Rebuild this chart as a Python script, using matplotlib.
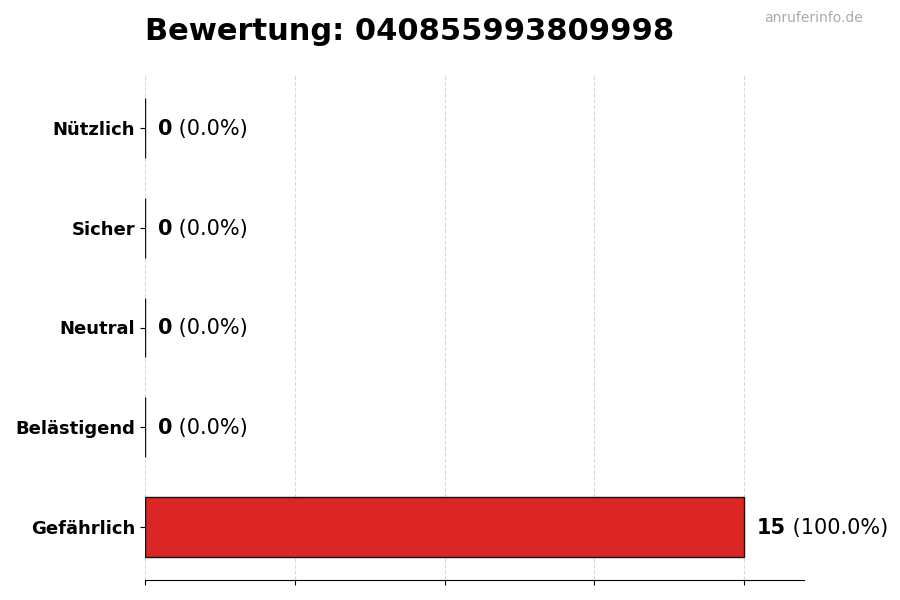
import matplotlib
matplotlib.use("Agg")
import matplotlib.pyplot as plt

categories = ["Gefährlich", "Belästigend", "Neutral", "Sicher", "Nützlich"]
values = [15, 0, 0, 0, 0]
colors = ["#dc2626", "#f97316", "#9ca3af", "#22c55e", "#16a34a"]
title = "Bewertung: 040855993809998"
total = sum(values)

fig = plt.figure(figsize=(9, 6), dpi=100)
ax = fig.add_axes([145/900, 1-580/600, (804-145)/900, (580-75)/600])

ypos = list(range(len(categories)))
ax.barh(ypos, values, height=0.6, color=colors, edgecolor="#111111", linewidth=1.0, zorder=2)
ax.set_yticks(ypos)
ax.set_yticklabels(categories, fontsize=13, fontweight="bold")
ax.set_xlim(0, max(values) * 1.1)
ax.set_xticks([0, 3.75, 7.5, 11.25, 15])
ax.set_xticklabels([])
ax.grid(axis="x", linestyle="--", color="#d9d9d9", linewidth=0.8, zorder=0)
ax.set_axisbelow(True)
for s in ["top", "right", "left"]:
    ax.spines[s].set_visible(False)

off = 0.32
for y, v in zip(ypos, values):
    pct = 100 * v / total if total else 0
    t = ax.text(v + off, y - 0.01, f"{v}", fontsize=15, fontweight="bold", va="center", ha="left")
    fig.canvas.draw()
    bb = t.get_window_extent()
    inv = ax.transData.inverted()
    x_end = inv.transform((bb.x1, 0))[0]
    ax.text(x_end, y - 0.01, f" ({pct:.1f}%)", fontsize=15, va="center", ha="left")

fig.text(145/900, 1-31/600, title, fontsize=22, fontweight="bold", ha="left", va="center")
fig.text(863/900, 1-18/600, "anruferinfo.de", fontsize=10, color="#aaaaaa", ha="right", va="center")

fig.savefig("out.png", dpi=100)
